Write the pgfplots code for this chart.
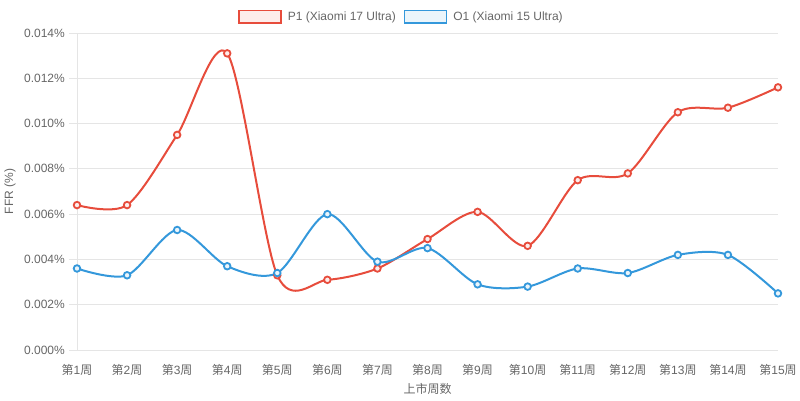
\documentclass[border=0pt]{standalone}
\usepackage{fontspec}
\setmainfont{Liberation Sans}
\newfontfamily\cjk{Noto Sans CJK SC}
\usepackage{pgfplots}
\pgfplotsset{compat=1.18}
\definecolor{p1}{HTML}{E74C3C}
\definecolor{o1}{HTML}{3498DB}
\definecolor{tg}{HTML}{666666}
\definecolor{gl}{HTML}{E5E5E5}
\newcommand\wk[1]{{\cjk 第}#1{\cjk 周}}
\begin{document}
\fontsize{12}{14}\selectfont
\begin{tikzpicture}
\path[use as bounding box] (-77pt,-51pt) rectangle (723pt,350pt);
\begin{axis}[
  at={(0,0)}, anchor=south west,
  scale only axis, width=701pt, height=317pt,
  xmin=1, xmax=15, ymin=0, ymax=0.014,
  scaled y ticks=false,
  xtick={1,...,15},
  xticklabels={\wk{1},\wk{2},\wk{3},\wk{4},\wk{5},\wk{6},\wk{7},\wk{8},\wk{9},\wk{10},\wk{11},\wk{12},\wk{13},\wk{14},\wk{15}},
  ytick={0,0.002,0.004,0.006,0.008,0.010,0.012,0.014},
  yticklabels={0.000\%,0.002\%,0.004\%,0.006\%,0.008\%,0.010\%,0.012\%,0.014\%},
  axis x line*=bottom, axis y line*=left,
  axis line style={draw=gl, line width=0.8pt, -},
  ymajorgrids, grid style={draw=gl, line width=0.8pt},
  tick align=outside, major tick length=8pt,
  xtick style={draw=none}, ytick style={draw=gl, line width=0.8pt},
  ticklabel style={text=tg, font=\fontsize{12}{14}\selectfont},
  xticklabel style={anchor=north, inner sep=0pt, yshift=-6pt},
  yticklabel style={anchor=east, inner sep=0pt, xshift=-4pt},
  xlabel={{\cjk 上市周数}}, ylabel={FFR (\%)},
  xlabel style={at={(axis description cs:0.5,0)}, anchor=center, yshift=-39pt, text=tg, font=\fontsize{12}{14}\selectfont},
  ylabel style={at={(axis description cs:-0.0956,0.5)}, anchor=center, text=tg, font=\fontsize{12}{14}\selectfont},
  legend columns=2,
  legend style={at={(axis description cs:0.4615,1.051)}, anchor=center, draw=none, fill=none, inner sep=0pt,
    nodes={inner sep=0pt, text=tg, font=\fontsize{12}{14}\selectfont},
    /tikz/every odd column/.append style={column sep=6pt},
    /tikz/every even column/.append style={column sep=8pt}},
  clip=false,
]
\addplot[smooth, tension=0.5, draw=p1, line width=2pt, mark=*, mark size=3.3pt,
  mark options={draw=p1, fill=p1!10, line width=1.8pt},
  legend image code/.code={\draw[draw=p1, fill=p1!10, line width=1.5pt] (0pt,-6.5pt) rectangle (42pt,6pt);}]
 coordinates {(1,0.0064) (2,0.0064) (3,0.0095) (4,0.0131) (5,0.0033) (6,0.0031) (7,0.0036) (8,0.0049) (9,0.0061) (10,0.0046) (11,0.0075) (12,0.0078) (13,0.0105) (14,0.0107) (15,0.0116)};
\addlegendentry{P1 (Xiaomi 17 Ultra)}
\addplot[smooth, tension=0.5, draw=o1, line width=2pt, mark=*, mark size=3.3pt,
  mark options={draw=o1, fill=o1!10, line width=1.8pt},
  legend image code/.code={\draw[draw=o1, fill=o1!10, line width=1.5pt] (0pt,-6.5pt) rectangle (42pt,6pt);}]
 coordinates {(1,0.0036) (2,0.0033) (3,0.0053) (4,0.0037) (5,0.0034) (6,0.0060) (7,0.0039) (8,0.0045) (9,0.0029) (10,0.0028) (11,0.0036) (12,0.0034) (13,0.0042) (14,0.0042) (15,0.0025)};
\addlegendentry{O1 (Xiaomi 15 Ultra)}
\end{axis}
\end{tikzpicture}
\end{document}
